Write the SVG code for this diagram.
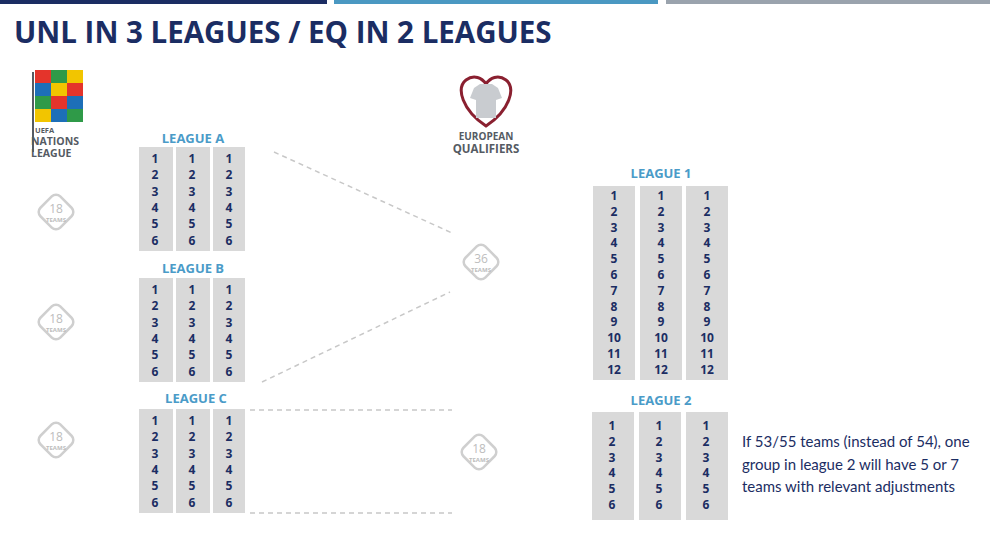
<svg xmlns="http://www.w3.org/2000/svg" width="1000" height="533" viewBox="0 0 1000 533">
<style>
.col{fill:#d9d9d9}
.n{font-family:"Open Sans","DejaVu Sans",sans-serif;font-weight:700;font-size:12px;fill:#1b2d63;text-anchor:middle}
.lg{font-family:"Open Sans","DejaVu Sans",sans-serif;font-weight:700;font-size:13px;fill:#4a9bc8;text-anchor:middle}
.dm{fill:#fff;stroke:#cfcfcf;stroke-width:2.5}
.dn{font-family:"Open Sans",sans-serif;font-size:12px;fill:#bdbdbd;text-anchor:middle}
.dt{font-family:"Open Sans",sans-serif;font-size:6px;fill:#bdbdbd;text-anchor:middle;font-weight:700}
.cn{stroke:#c8c8c8;stroke-width:1.5;stroke-dasharray:5 4;fill:none}
.logo{font-family:"Open Sans","DejaVu Sans",sans-serif;font-weight:700;fill:#555b63}
</style>
<defs>
<g id="d"><rect x="-14" y="-14" width="28" height="28" rx="6" transform="rotate(45)" class="dm"/></g>
</defs>
<rect x="0" y="0" width="327" height="4" fill="#1b2d63"/>
<rect x="334" y="0" width="324" height="4" fill="#4a98c2"/>
<rect x="666" y="0" width="324" height="4" fill="#9aa3ad"/>
<text x="14" y="43" font-family="Open Sans, DejaVu Sans, sans-serif" font-weight="700" font-size="29.5" fill="#1b2d63">UNL IN 3 LEAGUES / EQ IN 2 LEAGUES</text>

<g id="unl-logo">
<rect x="32" y="72" width="2" height="80" fill="#555b63"/>
<rect x="35" y="70" width="48" height="52" fill="#e8e8e8"/>
<rect x="35" y="70" width="16" height="13" fill="#e4342b"/><rect x="51" y="70" width="16" height="13" fill="#2f9a48"/><rect x="67" y="70" width="16" height="13" fill="#f2c500"/>
<rect x="35" y="83" width="16" height="13" fill="#1d6fb8"/><rect x="51" y="83" width="16" height="13" fill="#f2c500"/><rect x="67" y="83" width="16" height="13" fill="#e4342b"/>
<rect x="35" y="96" width="16" height="13" fill="#2f9a48"/><rect x="51" y="96" width="16" height="13" fill="#e4342b"/><rect x="67" y="96" width="16" height="13" fill="#1d6fb8"/>
<rect x="35" y="109" width="16" height="13" fill="#f2c500"/><rect x="51" y="109" width="16" height="13" fill="#1d6fb8"/><rect x="67" y="109" width="16" height="13" fill="#2f9a48"/>
<text x="35" y="133" class="logo" font-size="7.5">UEFA</text>
<text x="31" y="145" class="logo" font-size="10.5">NATIONS</text>
<text x="31" y="157" class="logo" font-size="10.5">LEAGUE</text>
</g>
<g id="eq-logo">
<path d="M486 126 C462 110 456 88 466 80 C474 74 482 78 486 84 C490 78 498 74 506 80 C516 88 510 110 486 126 Z" fill="none" stroke="#8a2030" stroke-width="3"/>
<path d="M474 88 L480 84 L492 84 L498 88 L502 98 L496 100 L496 118 L476 118 L476 100 L470 98 Z" fill="#c9ccd0"/>
<text x="486" y="140" class="logo" font-size="10" text-anchor="middle">EUROPEAN</text>
<text x="486" y="153" class="logo" font-size="11.5" text-anchor="middle">QUALIFIERS</text>
</g>

<g id="connectors">
<line x1="274" y1="152" x2="452" y2="233" class="cn"/>
<line x1="262" y1="382" x2="450" y2="292" class="cn"/>
<line x1="250" y1="410" x2="452" y2="410" class="cn"/>
<line x1="250" y1="513" x2="452" y2="513" class="cn"/>
</g>

<g id="badge-a"><use href="#d" x="56" y="212"/><text x="56" y="213" class="dn">18</text><text x="56" y="222" class="dt">TEAMS</text></g>
<g id="badge-b"><use href="#d" x="56" y="322"/><text x="56" y="323" class="dn">18</text><text x="56" y="332" class="dt">TEAMS</text></g>
<g id="badge-c"><use href="#d" x="56" y="440"/><text x="56" y="441" class="dn">18</text><text x="56" y="450" class="dt">TEAMS</text></g>
<g id="badge-36"><use href="#d" x="481" y="262"/><text x="481" y="263" class="dn">36</text><text x="481" y="272" class="dt">TEAMS</text></g>
<g id="badge-18"><use href="#d" x="479" y="452"/><text x="479" y="453" class="dn">18</text><text x="479" y="462" class="dt">TEAMS</text></g>

<g id="league-a">
<text x="193" y="143" class="lg">LEAGUE A</text>
<rect x="139" y="147" width="34" height="104" class="col"/><rect x="176" y="147" width="34" height="104" class="col"/><rect x="213" y="147" width="32" height="104" class="col"/>
<text class="n" y="163"><tspan x="155">1</tspan><tspan x="155" dy="16.3">2</tspan><tspan x="155" dy="16.3">3</tspan><tspan x="155" dy="16.3">4</tspan><tspan x="155" dy="16.3">5</tspan><tspan x="155" dy="16.3">6</tspan></text>
<text class="n" y="163"><tspan x="192">1</tspan><tspan x="192" dy="16.3">2</tspan><tspan x="192" dy="16.3">3</tspan><tspan x="192" dy="16.3">4</tspan><tspan x="192" dy="16.3">5</tspan><tspan x="192" dy="16.3">6</tspan></text>
<text class="n" y="163"><tspan x="229">1</tspan><tspan x="229" dy="16.3">2</tspan><tspan x="229" dy="16.3">3</tspan><tspan x="229" dy="16.3">4</tspan><tspan x="229" dy="16.3">5</tspan><tspan x="229" dy="16.3">6</tspan></text>
</g>
<g id="league-b">
<text x="193" y="273" class="lg">LEAGUE B</text>
<rect x="139" y="278" width="34" height="104" class="col"/><rect x="176" y="278" width="34" height="104" class="col"/><rect x="213" y="278" width="32" height="104" class="col"/>
<text class="n" y="294"><tspan x="155">1</tspan><tspan x="155" dy="16.3">2</tspan><tspan x="155" dy="16.3">3</tspan><tspan x="155" dy="16.3">4</tspan><tspan x="155" dy="16.3">5</tspan><tspan x="155" dy="16.3">6</tspan></text>
<text class="n" y="294"><tspan x="192">1</tspan><tspan x="192" dy="16.3">2</tspan><tspan x="192" dy="16.3">3</tspan><tspan x="192" dy="16.3">4</tspan><tspan x="192" dy="16.3">5</tspan><tspan x="192" dy="16.3">6</tspan></text>
<text class="n" y="294"><tspan x="229">1</tspan><tspan x="229" dy="16.3">2</tspan><tspan x="229" dy="16.3">3</tspan><tspan x="229" dy="16.3">4</tspan><tspan x="229" dy="16.3">5</tspan><tspan x="229" dy="16.3">6</tspan></text>
</g>
<g id="league-c">
<text x="196" y="403" class="lg">LEAGUE C</text>
<rect x="139" y="409" width="34" height="104" class="col"/><rect x="176" y="409" width="34" height="104" class="col"/><rect x="213" y="409" width="32" height="104" class="col"/>
<text class="n" y="425"><tspan x="155">1</tspan><tspan x="155" dy="16.3">2</tspan><tspan x="155" dy="16.3">3</tspan><tspan x="155" dy="16.3">4</tspan><tspan x="155" dy="16.3">5</tspan><tspan x="155" dy="16.3">6</tspan></text>
<text class="n" y="425"><tspan x="192">1</tspan><tspan x="192" dy="16.3">2</tspan><tspan x="192" dy="16.3">3</tspan><tspan x="192" dy="16.3">4</tspan><tspan x="192" dy="16.3">5</tspan><tspan x="192" dy="16.3">6</tspan></text>
<text class="n" y="425"><tspan x="229">1</tspan><tspan x="229" dy="16.3">2</tspan><tspan x="229" dy="16.3">3</tspan><tspan x="229" dy="16.3">4</tspan><tspan x="229" dy="16.3">5</tspan><tspan x="229" dy="16.3">6</tspan></text>
</g>

<g id="league-1">
<text x="661" y="178" class="lg">LEAGUE 1</text>
<rect x="593" y="186" width="42" height="194" class="col"/><rect x="640" y="186" width="42" height="194" class="col"/><rect x="686" y="186" width="42" height="194" class="col"/>
<text class="n" y="200"><tspan x="614">1</tspan><tspan x="614" dy="15.8">2</tspan><tspan x="614" dy="15.8">3</tspan><tspan x="614" dy="15.8">4</tspan><tspan x="614" dy="15.8">5</tspan><tspan x="614" dy="15.8">6</tspan><tspan x="614" dy="15.8">7</tspan><tspan x="614" dy="15.8">8</tspan><tspan x="614" dy="15.8">9</tspan><tspan x="614" dy="15.8">10</tspan><tspan x="614" dy="15.8">11</tspan><tspan x="614" dy="15.8">12</tspan></text>
<text class="n" y="200"><tspan x="661">1</tspan><tspan x="661" dy="15.8">2</tspan><tspan x="661" dy="15.8">3</tspan><tspan x="661" dy="15.8">4</tspan><tspan x="661" dy="15.8">5</tspan><tspan x="661" dy="15.8">6</tspan><tspan x="661" dy="15.8">7</tspan><tspan x="661" dy="15.8">8</tspan><tspan x="661" dy="15.8">9</tspan><tspan x="661" dy="15.8">10</tspan><tspan x="661" dy="15.8">11</tspan><tspan x="661" dy="15.8">12</tspan></text>
<text class="n" y="200"><tspan x="707">1</tspan><tspan x="707" dy="15.8">2</tspan><tspan x="707" dy="15.8">3</tspan><tspan x="707" dy="15.8">4</tspan><tspan x="707" dy="15.8">5</tspan><tspan x="707" dy="15.8">6</tspan><tspan x="707" dy="15.8">7</tspan><tspan x="707" dy="15.8">8</tspan><tspan x="707" dy="15.8">9</tspan><tspan x="707" dy="15.8">10</tspan><tspan x="707" dy="15.8">11</tspan><tspan x="707" dy="15.8">12</tspan></text>
</g>
<g id="league-2">
<text x="661" y="405" class="lg">LEAGUE 2</text>
<rect x="592" y="412" width="42" height="108" class="col"/><rect x="639" y="412" width="42" height="108" class="col"/><rect x="686" y="412" width="42" height="108" class="col"/>
<text class="n" y="430"><tspan x="612">1</tspan><tspan x="612" dy="15.8">2</tspan><tspan x="612" dy="15.8">3</tspan><tspan x="612" dy="15.8">4</tspan><tspan x="612" dy="15.8">5</tspan><tspan x="612" dy="15.8">6</tspan></text>
<text class="n" y="430"><tspan x="659">1</tspan><tspan x="659" dy="15.8">2</tspan><tspan x="659" dy="15.8">3</tspan><tspan x="659" dy="15.8">4</tspan><tspan x="659" dy="15.8">5</tspan><tspan x="659" dy="15.8">6</tspan></text>
<text class="n" y="430"><tspan x="706">1</tspan><tspan x="706" dy="15.8">2</tspan><tspan x="706" dy="15.8">3</tspan><tspan x="706" dy="15.8">4</tspan><tspan x="706" dy="15.8">5</tspan><tspan x="706" dy="15.8">6</tspan></text>
</g>
<g id="note" font-family="Lato, 'Open Sans', sans-serif" font-size="15" fill="#1b2d63">
<text x="742" y="447">If 53/55 teams (instead of 54), one</text>
<text x="742" y="470">group in league 2 will have 5 or 7</text>
<text x="742" y="492">teams with relevant adjustments</text>
</g>
</svg>
